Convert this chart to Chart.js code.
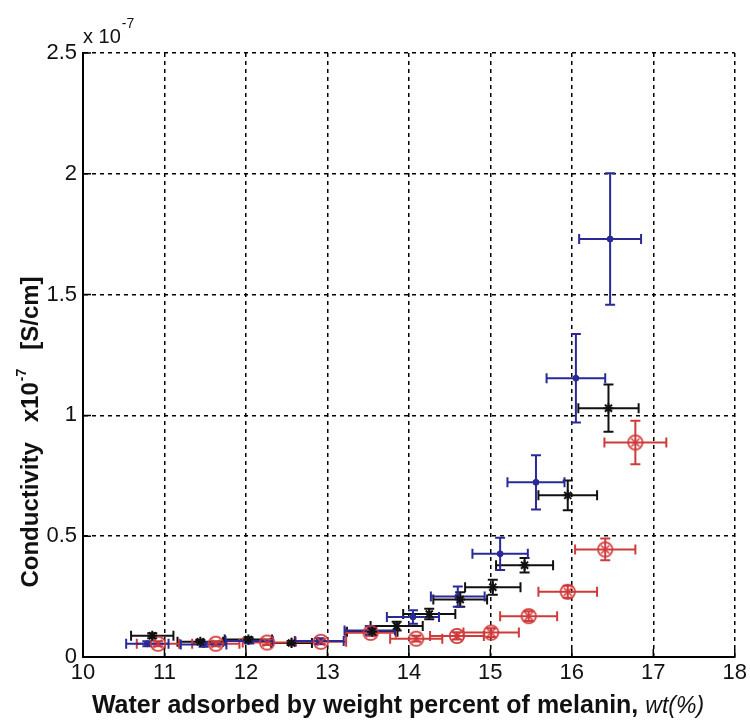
<!DOCTYPE html>
<html><head><meta charset="utf-8">
<script src="https://cdn.jsdelivr.net/npm/chart.js@4/dist/chart.umd.min.js"></script>
<style>html,body{margin:0;padding:0;background:#fff}</style>
</head><body>
<canvas id="c" width="750" height="720" style="width:750px;height:720px;display:block"></canvas>
<script>
// ---- data ----
const xTicks = [10, 11, 12, 13, 14, 15, 16, 17, 18];
const yTicks = [0, 0.5, 1, 1.5, 2, 2.5];

const blueX    = [10.79, 11.48, 12.04, 12.90, 13.52, 14.05, 14.60, 15.12, 15.56, 16.05, 16.47];
const blueY    = [0.055, 0.052, 0.066, 0.066, 0.110, 0.166, 0.250, 0.427, 0.723, 1.154, 1.730];
const blueXErr = [0.26, 0.28, 0.29, 0.30, 0.31, 0.32, 0.33, 0.34, 0.35, 0.36, 0.38];
const blueYErr = [0.010, 0.010, 0.010, 0.012, 0.018, 0.028, 0.042, 0.067, 0.112, 0.183, 0.272];

const blackX    = [10.85, 11.44, 12.03, 12.56, 13.55, 13.85, 14.25, 14.63, 15.03, 15.42, 15.95, 16.45];
const blackY    = [0.088, 0.063, 0.072, 0.058, 0.105, 0.128, 0.178, 0.238, 0.289, 0.380, 0.669, 1.030];
const blackXErr = [0.26, 0.28, 0.29, 0.25, 0.31, 0.32, 0.32, 0.33, 0.34, 0.35, 0.36, 0.37];
const blackYErr = [0.010, 0.008, 0.010, 0.008, 0.015, 0.018, 0.022, 0.030, 0.031, 0.030, 0.062, 0.098];

const redX    = [10.92, 11.63, 12.26, 12.92, 13.53, 14.09, 14.59, 15.01, 15.47, 15.95, 16.41, 16.78];
const redY    = [0.055, 0.055, 0.060, 0.063, 0.100, 0.076, 0.087, 0.101, 0.169, 0.270, 0.445, 0.888];
const redXErr = [0.26, 0.29, 0.30, 0.31, 0.31, 0.32, 0.33, 0.34, 0.35, 0.36, 0.37, 0.38];
const redYErr = [0.010, 0.010, 0.010, 0.010, 0.012, 0.012, 0.015, 0.018, 0.020, 0.025, 0.045, 0.090];

const xTitle = 'Water adsorbed by weight percent of melanin,';
const xTitleItalic = 'wt(%)';
const yTitleParts = ['Conductivity', 'x10', '-7', '[S/cm]'];
const exponentLabel = ['x 10', '-7'];

// ---- helpers ----
const BLUE = '#2a2a96', BLACK = '#111111', RED = '#cf3a3a';
const TICK_FONT = '"Liberation Sans Narrow", "Liberation Sans", Arial, sans-serif';
const BOLD_FONT = '"Liberation Sans", Arial, sans-serif';

function pts(xs, ys, xe, ye) {
  return xs.map((v, i) => ({ x: v, y: ys[i], xe: xe[i], ye: ye[i] }));
}

// circle-with-x marker for the red series
const redMarker = (() => {
  const c = document.createElement('canvas');
  c.width = 18; c.height = 18;
  const g = c.getContext('2d');
  g.strokeStyle = RED; g.lineWidth = 1.7;
  g.beginPath(); g.arc(9, 9, 7.2, 0, Math.PI * 2); g.stroke();
  g.beginPath(); g.moveTo(5, 5); g.lineTo(13, 13); g.moveTo(13, 5); g.lineTo(5, 13); g.stroke();
  return c;
})();

const errorBars = {
  id: 'errorBars',
  beforeDatasetsDraw(chart) {
    const { ctx } = chart;
    const x = chart.scales.x, y = chart.scales.y;
    const cap = 5;
    chart.data.datasets.forEach(ds => {
      ctx.save();
      ctx.strokeStyle = ds.errColor;
      ctx.lineWidth = 2;
      ds.data.forEach(p => {
        const px = x.getPixelForValue(p.x), py = y.getPixelForValue(p.y);
        const xl = x.getPixelForValue(p.x - p.xe), xr = x.getPixelForValue(p.x + p.xe);
        const yt = y.getPixelForValue(p.y + p.ye), yb = y.getPixelForValue(p.y - p.ye);
        ctx.beginPath();
        ctx.moveTo(xl, py); ctx.lineTo(xr, py);
        ctx.moveTo(xl, py - cap); ctx.lineTo(xl, py + cap);
        ctx.moveTo(xr, py - cap); ctx.lineTo(xr, py + cap);
        ctx.moveTo(px, yt); ctx.lineTo(px, yb);
        ctx.moveTo(px - cap, yt); ctx.lineTo(px + cap, yt);
        ctx.moveTo(px - cap, yb); ctx.lineTo(px + cap, yb);
        ctx.stroke();
      });
      ctx.restore();
    });
  }
};

const decorations = {
  id: 'decorations',
  afterDraw(chart) {
    const { ctx, chartArea: a } = chart;
    const x = chart.scales.x, y = chart.scales.y;
    ctx.save();
    // inward tick marks
    ctx.strokeStyle = '#000'; ctx.lineWidth = 1.5;
    ctx.beginPath();
    xTicks.forEach(v => { const px = x.getPixelForValue(v); ctx.moveTo(px, a.bottom); ctx.lineTo(px, a.bottom - 8); });
    yTicks.forEach(v => { const py = y.getPixelForValue(v); ctx.moveTo(a.left, py); ctx.lineTo(a.left + 8, py); });
    ctx.stroke();

    ctx.fillStyle = '#111';
    // exponent label top-left
    ctx.font = '20px ' + TICK_FONT;
    ctx.textBaseline = 'alphabetic'; ctx.textAlign = 'left';
    ctx.fillText(exponentLabel[0], a.left, a.top - 10);
    const w0 = ctx.measureText(exponentLabel[0]).width;
    ctx.font = '14px ' + TICK_FONT;
    ctx.fillText(exponentLabel[1], a.left + w0 + 1, a.top - 25);

    // x title
    const xb = 'bold 25px ' + BOLD_FONT, xi = 'italic 23px ' + TICK_FONT;
    ctx.font = xb;
    const wA = ctx.measureText(xTitle).width;
    ctx.font = xi;
    const wB = ctx.measureText(xTitleItalic).width;
    const gap = 7;
    const total = wA + gap + wB;
    const sx = 398 - total / 2;
    const by = 713;
    ctx.font = xb;
    ctx.fillText(xTitle, sx, by);
    ctx.font = xi;
    ctx.fillText(xTitleItalic, sx + wA + gap, by);

    // y title (rotated)
    ctx.save();
    ctx.translate(38, 432);
    ctx.rotate(-Math.PI / 2);
    const big = 'bold 24px ' + BOLD_FONT, small = 'bold 14px ' + BOLD_FONT;
    const sp = 20;
    ctx.font = big;
    const w1 = ctx.measureText(yTitleParts[0]).width;
    const w2 = ctx.measureText(yTitleParts[1]).width;
    const w4 = ctx.measureText(yTitleParts[3]).width;
    ctx.font = small;
    const w3 = ctx.measureText(yTitleParts[2]).width;
    const tot = w1 + sp + w2 + w3 + sp + w4;
    let cx = -tot / 2;
    ctx.font = big;
    ctx.fillText(yTitleParts[0], cx, 0); cx += w1 + sp;
    ctx.fillText(yTitleParts[1], cx, 0); cx += w2;
    ctx.font = small;
    ctx.fillText(yTitleParts[2], cx + 1, -12); cx += w3 + sp;
    ctx.font = big;
    ctx.fillText(yTitleParts[3], cx, 0);
    ctx.restore();
    ctx.restore();
  }
};

new Chart(document.getElementById('c'), {
  type: 'scatter',
  data: {
    datasets: [
      { label: 'black', data: pts(blackX, blackY, blackXErr, blackYErr), errColor: BLACK,
        pointStyle: 'star', radius: 5, borderColor: BLACK, backgroundColor: BLACK, borderWidth: 2, showLine: false },
      { label: 'red', data: pts(redX, redY, redXErr, redYErr), errColor: RED,
        pointStyle: redMarker, radius: 9, showLine: false },
      { label: 'blue', data: pts(blueX, blueY, blueXErr, blueYErr), errColor: BLUE,
        pointStyle: 'circle', radius: 3, borderColor: BLUE, backgroundColor: BLUE, borderWidth: 1, showLine: false }
    ]
  },
  options: {
    responsive: false,
    devicePixelRatio: 1,
    animation: false,
    layout: { padding: { left: 0, top: 53, right: 12, bottom: 0 } },
    plugins: { legend: { display: false }, tooltip: { enabled: false } },
    elements: { point: { hoverRadius: 0 } },
    scales: {
      x: {
        type: 'linear', min: 10, max: 18,
        afterBuildTicks: s => { s.ticks = xTicks.map(v => ({ value: v })); },
        afterFit: s => { s.height = 63; },
        ticks: { font: { size: 22, family: TICK_FONT }, color: '#111', padding: 3, maxRotation: 0, callback: v => String(v) },
        grid: { color: '#000', lineWidth: 1.5, drawTicks: false },
        border: { display: true, color: '#000', width: 2, dash: [4, 4] }
      },
      y: {
        type: 'linear', min: 0, max: 2.5,
        afterBuildTicks: s => { s.ticks = yTicks.map(v => ({ value: v })); },
        afterFit: s => { s.width = 83; },
        ticks: { font: { size: 22, family: TICK_FONT }, color: '#111', padding: 6, callback: v => String(v) },
        grid: { color: '#000', lineWidth: 1.5, drawTicks: false },
        border: { display: true, color: '#000', width: 2, dash: [4, 4] }
      }
    }
  },
  plugins: [errorBars, decorations]
});
</script>
</body></html>
